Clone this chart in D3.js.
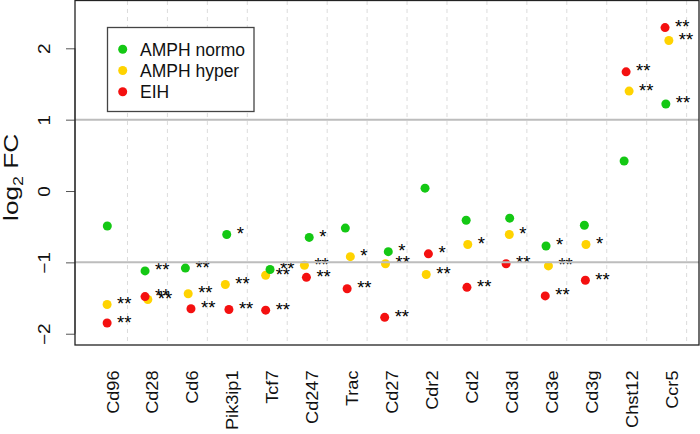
<!DOCTYPE html>
<html>
<head>
<meta charset="utf-8">
<script src="https://cdn.jsdelivr.net/npm/d3@7"></script>
<style>
  html, body { margin: 0; padding: 0; background: #fff; }
  svg { display: block; font-family: "Liberation Sans", Arial, Helvetica, sans-serif; }
</style>
</head>
<body>
<svg id="chart" width="700" height="434"></svg>
<script>
// ---- data ----
const categories = ["Cd96","Cd28","Cd6","Pik3ip1","Tcf7","Cd247","Trac","Cd27","Cdr2","Cd2","Cd3d","Cd3e","Cd3g","Chst12","Ccr5"];
const seriesNames = ["AMPH normo","AMPH hyper","EIH"];
const seriesColors = ["#14c814","#ffd300","#f41010"];

const normoValues = [-0.49,-1.12,-1.08,-0.61,-1.10,-0.65,-0.52,-0.85,0.04,-0.41,-0.38,-0.77,-0.48,0.42,1.22];
const hyperValues = [-1.59,-1.52,-1.44,-1.31,-1.18,-1.04,-0.92,-1.02,-1.17,-0.75,-0.61,-1.05,-0.75,1.40,2.11];
const eihValues   = [-1.85,-1.48,-1.65,-1.66,-1.67,-1.21,-1.37,-1.77,-0.88,-1.35,-1.02,-1.47,-1.25,1.67,2.29];

// horizontal jitter of points (category units)
const normoJitter = [-0.005,-0.06,-0.05,-0.015,0.07,0.05,-0.045,0.03,-0.05,-0.02,0.07,-0.02,-0.06,-0.065,-0.02];
const hyperJitter = [-0.01,0.01,0.02,-0.05,-0.04,-0.07,0.08,-0.04,-0.02,0.02,0.06,0.04,-0.02,0.06,0.055];
const eihJitter   = [-0.01,-0.06,0.09,0.04,-0.04,-0.02,0,-0.06,0.035,0,-0.02,-0.04,-0.035,-0.015,-0.04];

// significance marks
const normoStars = ["","**","**","*","**","*","","*","","","","*","","","**"];
const hyperStars = ["**","**","**","**","**","**","*","**","**","*","*","**","*","**","**"];
const eihStars   = ["**","**","**","**","**","**","**","**","*","**","**","**","**","**","**"];

const yTicks = [-2,-1,0,1,2];
const refLines = [-1,1];
const yLabel = "log";
const yLabelSub = "2";
const yLabelRest = " FC";

// ---- layout ----
const plotLeft = 75, plotRight = 699, plotTop = 1, plotBottom = 345;
const svg = d3.select("#chart");

const x = d3.scaleLinear().domain([-0.814, 14.81]).range([plotLeft, plotRight]);
const y = d3.scaleLinear().domain([-2.158, 2.663]).range([plotBottom, plotTop]);

const series = [
  {name: seriesNames[0], color: seriesColors[0], values: normoValues, jitter: normoJitter, stars: normoStars},
  {name: seriesNames[1], color: seriesColors[1], values: hyperValues, jitter: hyperJitter, stars: hyperStars},
  {name: seriesNames[2], color: seriesColors[2], values: eihValues, jitter: eihJitter, stars: eihStars}
];

// vertical dashed separators
svg.append("g").selectAll("line")
  .data(categories.map((c, i) => i + 0.5))
  .join("line")
  .attr("x1", d => x(d)).attr("x2", d => x(d))
  .attr("y1", plotTop).attr("y2", plotBottom)
  .attr("stroke", "#dcdcdc").attr("stroke-width", 1)
  .attr("stroke-dasharray", "4,4");

// points: draw order hyper, normo, eih
const drawOrder = [1, 0, 2];
drawOrder.forEach(si => {
  const s = series[si];
  svg.append("g").selectAll("circle")
    .data(s.values.map((v, i) => ({i, v, j: s.jitter[i]})))
    .join("circle")
    .attr("cx", d => x(d.i + d.j))
    .attr("cy", d => y(d.v))
    .attr("r", 4.5)
    .attr("fill", s.color);
});

// stars
series.forEach(s => {
  svg.append("g").selectAll("text")
    .data(s.values.map((v, i) => ({i, v, j: s.jitter[i], t: s.stars[i]})).filter(d => d.t))
    .join("text")
    .attr("x", d => x(d.i + d.j) + 10)
    .attr("y", d => y(d.v) + 5.5)
    .attr("font-size", 18.5)
    .attr("fill", "#000")
    .text(d => d.t);
});

// reference lines
svg.append("g").selectAll("line")
  .data(refLines)
  .join("line")
  .attr("x1", plotLeft).attr("x2", plotRight)
  .attr("y1", d => y(d)).attr("y2", d => y(d))
  .attr("stroke", "#bdbdbd").attr("stroke-width", 2);

// y axis
const yAxis = d3.axisLeft(y).tickValues(yTicks).tickSize(9).tickFormat(d3.format("d"));
const gy = svg.append("g").attr("transform", `translate(${plotLeft},0)`).call(yAxis);
gy.select(".domain").attr("stroke", "#555").attr("d", `M0,${y(-2)}V${y(2)}`);
gy.selectAll(".tick line").attr("stroke", "#555");
gy.selectAll(".tick text")
  .attr("font-size", 16.5)
  .attr("font-family", "'Liberation Sans', Arial, sans-serif")
  .attr("fill", "#111")
  .attr("x", null).attr("dy", null)
  .attr("text-anchor", "middle")
  .attr("transform", "translate(-25,0) rotate(-90) scale(1.15,1)")
  .attr("y", 0);

// x axis labels
const xAxis = d3.axisBottom(x).tickValues(categories.map((c, i) => i)).tickSize(0).tickFormat(i => categories[i]);
const gx = svg.append("g").attr("transform", `translate(0,${plotBottom})`).call(xAxis);
gx.select(".domain").remove();
gx.selectAll(".tick text")
  .attr("font-size", 16.5)
  .attr("font-family", "'Liberation Sans', Arial, sans-serif")
  .attr("fill", "#111")
  .attr("y", 0).attr("dy", null)
  .attr("text-anchor", "end")
  .attr("transform", "translate(10.5,25.5) rotate(-90) scale(1.1,1)");

// y axis title
const title = svg.append("text")
  .attr("transform", "translate(18.4,177.3) rotate(-90) scale(1.28,1)")
  .attr("text-anchor", "middle")
  .attr("font-size", 20.5)
  .attr("fill", "#111");
title.append("tspan").text(yLabel);
title.append("tspan").attr("font-size", 14).attr("dy", 5).text(yLabelSub);
title.append("tspan").attr("dy", -5).text(yLabelRest);

// plot box
svg.append("rect")
  .attr("x", plotLeft).attr("y", plotTop - 0.5)
  .attr("width", plotRight - plotLeft).attr("height", plotBottom - plotTop + 0.5)
  .attr("fill", "none").attr("stroke", "#222").attr("stroke-width", 1.3);

// legend
const lg = svg.append("g");
lg.append("rect")
  .attr("x", 107.5).attr("y", 27.5).attr("width", 146.5).attr("height", 84)
  .attr("fill", "#fff").attr("stroke", "#444").attr("stroke-width", 1.3);
series.forEach((s, k) => {
  const cy = 49.3 + k * 21.2;
  lg.append("circle").attr("cx", 122.7).attr("cy", cy).attr("r", 4.5).attr("fill", s.color);
  lg.append("text").attr("x", 140).attr("y", cy + 6.3).attr("font-size", 17.5).attr("fill", "#111").text(s.name);
});
</script>
</body>
</html>
